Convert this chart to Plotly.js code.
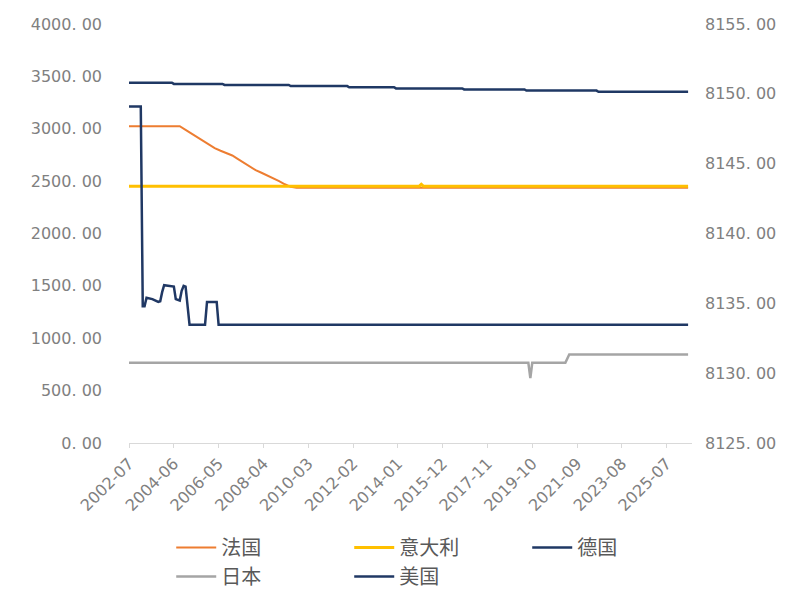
<!DOCTYPE html>
<html>
<head>
<meta charset="utf-8">
<script src="https://cdn.plot.ly/plotly-3.0.1.min.js"></script>
<style>html,body{margin:0;padding:0;background:#fff;}</style>
</head>
<body>
<div id="chart" style="width:792px;height:592px;"></div>
<script>
// X tick labels (every 23 months)
var xTickLabels = ['2002-07','2004-06','2006-05','2008-04','2010-03','2012-02','2014-01','2015-12','2017-11','2019-10','2021-09','2023-08','2025-07'];

// Left axis ticks
var yLeftTicks = [0,500,1000,1500,2000,2500,3000,3500,4000];
var yLeftText = ['0. 00','500. 00','1000. 00','1500. 00','2000. 00','2500. 00','3000. 00','3500. 00','4000. 00'];
// Right axis ticks
var yRightTicks = [8125,8130,8135,8140,8145,8150,8155];
var yRightText = ['8125. 00','8130. 00','8135. 00','8140. 00','8145. 00','8150. 00','8155. 00'];

// 法国
var franceDates = ['2002-07','2004-09','2004-12','2005-03','2005-06','2005-09','2005-12','2006-03','2006-06','2006-09','2006-12','2007-03','2007-06','2007-09','2007-12','2008-03','2008-06','2008-09','2008-12','2009-03','2009-06','2009-09','2026-06'];
var franceValues = [3025,3025,2990,2955,2925,2885,2850,2815,2790,2770,2745,2710,2675,2635,2605,2580,2555,2525,2500,2470,2445,2436,2436];

// 意大利
var italyDates = ['2002-07','2014-12','2015-01','2015-02','2026-06'];
var italyValues = [2452,2452,2470,2452,2452];

// 德国
var germanyDates = ['2002-07','2004-05','2004-06','2006-07','2006-08','2009-05','2009-06','2011-11','2011-12','2013-11','2013-12','2016-10','2016-11','2019-06','2019-07','2022-07','2022-08','2026-06'];
var germanyValues = [3440,3440,3428,3428,3418,3418,3407,3407,3396,3396,3385,3385,3375,3375,3364,3364,3353,3353];

// 日本
var japanDates = ['2002-07','2019-08','2019-09','2019-10','2021-03','2021-05','2026-06'];
var japanValues = [765.2,765.2,620,765.2,765.2,846,846];

// 美国 (right axis)
var usDates = ['2002-07','2003-01','2003-02','2003-03','2003-04','2003-07','2003-10','2003-11','2003-12','2004-01','2004-06','2004-07','2004-09','2004-10','2004-11','2004-12','2005-02','2005-10','2005-11','2006-04','2006-05','2026-06'];
var usValues = [8149.1,8149.1,8134.8,8134.8,8135.4,8135.3,8135.1,8135.15,8135.8,8136.3,8136.2,8135.3,8135.2,8135.9,8136.25,8136.2,8133.46,8133.46,8135.1,8135.1,8133.46,8133.46];

var seriesNames = ['法国','意大利','德国','日本','美国'];
var seriesColors = ['#ED7D31','#FFC000','#1F3864','#A5A5A5','#203864'];

var traces = [
  {x: franceDates, y: franceValues, name: seriesNames[0], type:'scatter', mode:'lines', line:{color:seriesColors[0], width:2}},
  {x: italyDates, y: italyValues, name: seriesNames[1], type:'scatter', mode:'lines', line:{color:seriesColors[1], width:3}},
  {x: germanyDates, y: germanyValues, name: seriesNames[2], type:'scatter', mode:'lines', line:{color:seriesColors[2], width:2.5}},
  {x: japanDates, y: japanValues, name: seriesNames[3], type:'scatter', mode:'lines', line:{color:seriesColors[3], width:2.5}},
  {x: usDates, y: usValues, name: seriesNames[4], type:'scatter', mode:'lines', yaxis:'y2', line:{color:seriesColors[4], width:2.5}}
];

var tickFont = {family:'DejaVu Sans, sans-serif', size:16, color:'#808080'};

var layout = {
  width:792, height:592,
  margin:{l:129, r:100, t:24, b:149, pad:0},
  paper_bgcolor:'#ffffff', plot_bgcolor:'#ffffff',
  showlegend:true,
  xaxis:{
    type:'date',
    range:['2002-07-01','2026-08-01'],
    tickvals: xTickLabels,
    ticktext: xTickLabels,
    tickangle:-45,
    ticks:'outside', ticklen:4, tickcolor:'#D9D9D9', tickwidth:1,
    showline:true, linecolor:'#D9D9D9', linewidth:1,
    showgrid:false, zeroline:false,
    tickfont:tickFont
  },
  yaxis:{
    range:[0,4000],
    tickvals:yLeftTicks, ticktext:yLeftText,
    showgrid:false, zeroline:false, showline:false,
    ticks:'', ticklabelstandoff:26,
    tickfont:tickFont
  },
  yaxis2:{
    range:[8125,8155],
    overlaying:'y', side:'right',
    tickvals:yRightTicks, ticktext:yRightText,
    showgrid:false, zeroline:false, showline:false,
    ticks:'', ticklabelstandoff:12,
    tickfont:tickFont
  },
  legend:{
    orientation:'h',
    x:0.075, xanchor:'left', xref:'paper',
    y:0.108, yanchor:'top', yref:'container',
    entrywidth:123, entrywidthmode:'pixels',
    itemwidth:40,
    font:{family:'Noto Sans CJK SC, sans-serif', size:20, color:'#595959'},
    bgcolor:'rgba(0,0,0,0)'
  }
};

Plotly.newPlot('chart', traces, layout, {displayModeBar:false, staticPlot:true});
</script>
</body>
</html>
